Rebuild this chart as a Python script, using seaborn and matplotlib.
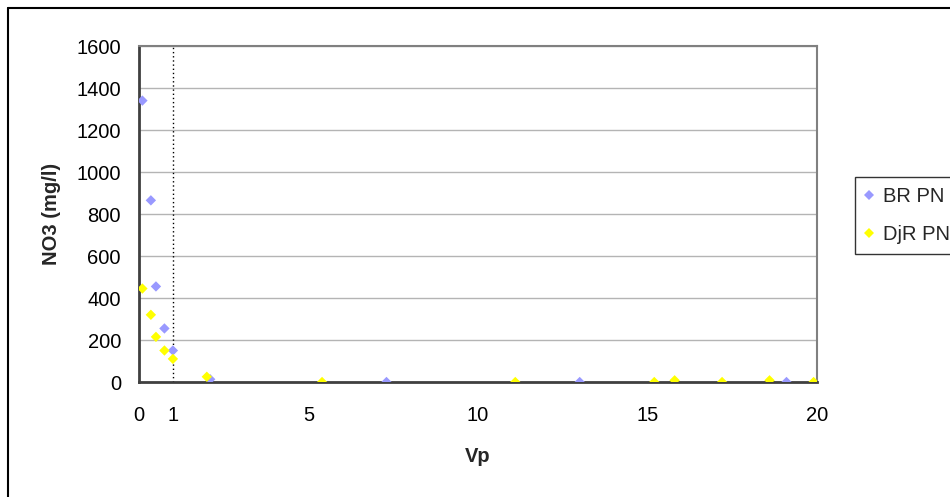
import matplotlib
matplotlib.use("Agg")
import matplotlib.pyplot as plt
from matplotlib.lines import Line2D
import seaborn as sns
import pandas as pd

# values
br_vp = [0.1, 0.35, 0.5, 0.75, 1.0, 2.1, 7.3, 13.0, 19.1]
br_no3 = [1340, 865, 455, 255, 150, 13, 0, 0, 0]

djr_vp = [0.1, 0.35, 0.5, 0.75, 1.0, 2.0, 5.4, 11.1, 15.2, 15.8, 17.2, 18.6, 19.9]
djr_no3 = [445, 320, 215, 150, 110, 25, 0, 0, 0, 8, 0, 8, 0]

series_names = ["BR PN", "DjR PN"]
series_colors = ["#9999FF", "#FFFF00"]
x_ticks = [0, 1, 5, 10, 15, 20]
y_ticks = [0, 200, 400, 600, 800, 1000, 1200, 1400, 1600]

df = pd.DataFrame({
    "Vp": br_vp + djr_vp,
    "NO3": br_no3 + djr_no3,
    "serie": [series_names[0]] * len(br_vp) + [series_names[1]] * len(djr_vp),
})

sns.set_style("white")
plt.rcParams["font.family"] = ["Liberation Sans", "DejaVu Sans"]

fig = plt.figure(figsize=(9.5, 4.97), dpi=100)
ax = fig.add_axes([139 / 950, 1 - 382 / 497, 678 / 950, 336 / 497])

# dotted line at Vp = 1
ax.axvline(1, color="black", linestyle=(0, (1, 2)), linewidth=1.0, zorder=1)

sns.scatterplot(data=df, x="Vp", y="NO3", hue="serie", hue_order=series_names,
                palette=series_colors, marker="D", s=28, linewidth=0,
                ax=ax, zorder=3, legend=False)

ax.set_xlim(0, 20)
ax.set_ylim(0, 1600)
ax.set_xticks(x_ticks)
ax.set_yticks(y_ticks)
ax.set_xticklabels([str(v) for v in x_ticks])
ax.set_yticklabels([str(v) for v in y_ticks])
ax.grid(axis="y", color="#B4B4B4", linewidth=1.0)
ax.grid(axis="x", visible=False)
ax.set_axisbelow(True)

ax.tick_params(axis="both", which="major", labelsize=14.5, direction="out",
               length=5, width=1.2, color="#404040", labelcolor="black")
ax.tick_params(axis="x", pad=12)
ax.tick_params(axis="y", pad=8)

for side in ["left", "bottom"]:
    ax.spines[side].set_color("#404040")
    ax.spines[side].set_linewidth(2.0)
for side in ["top", "right"]:
    ax.spines[side].set_visible(True)
    ax.spines[side].set_color("#808080")
    ax.spines[side].set_linewidth(1.5)

ax.set_xlabel("Vp", fontsize=14.5, fontweight="bold", labelpad=16)
ax.set_ylabel("NO3 (mg/l)", fontsize=14.5, fontweight="bold", labelpad=11)

# legend
handles = [Line2D([], [], linestyle="none", marker="D", markersize=5,
                  markerfacecolor=c, markeredgewidth=0) for c in series_colors]
leg = fig.legend(handles, series_names, loc="upper left",
                 bbox_to_anchor=(855 / 950, 1 - 177 / 497),
                 fontsize=14.5, frameon=True, fancybox=False, borderaxespad=0,
                 handlelength=0.4, handletextpad=0.5, borderpad=0.5,
                 labelspacing=0.95)
leg.get_frame().set_edgecolor("black")
leg.get_frame().set_linewidth(1.0)

# outer chart border (left and top edges visible in the crop)
fig.add_artist(Line2D([7.5 / 950, 7.5 / 950], [0, 1 - 7.5 / 497],
                      transform=fig.transFigure, color="black", linewidth=1.5))
fig.add_artist(Line2D([7.5 / 950, 1], [1 - 7.5 / 497, 1 - 7.5 / 497],
                      transform=fig.transFigure, color="black", linewidth=1.5))

fig.savefig("out.png", dpi=100, facecolor="white")
